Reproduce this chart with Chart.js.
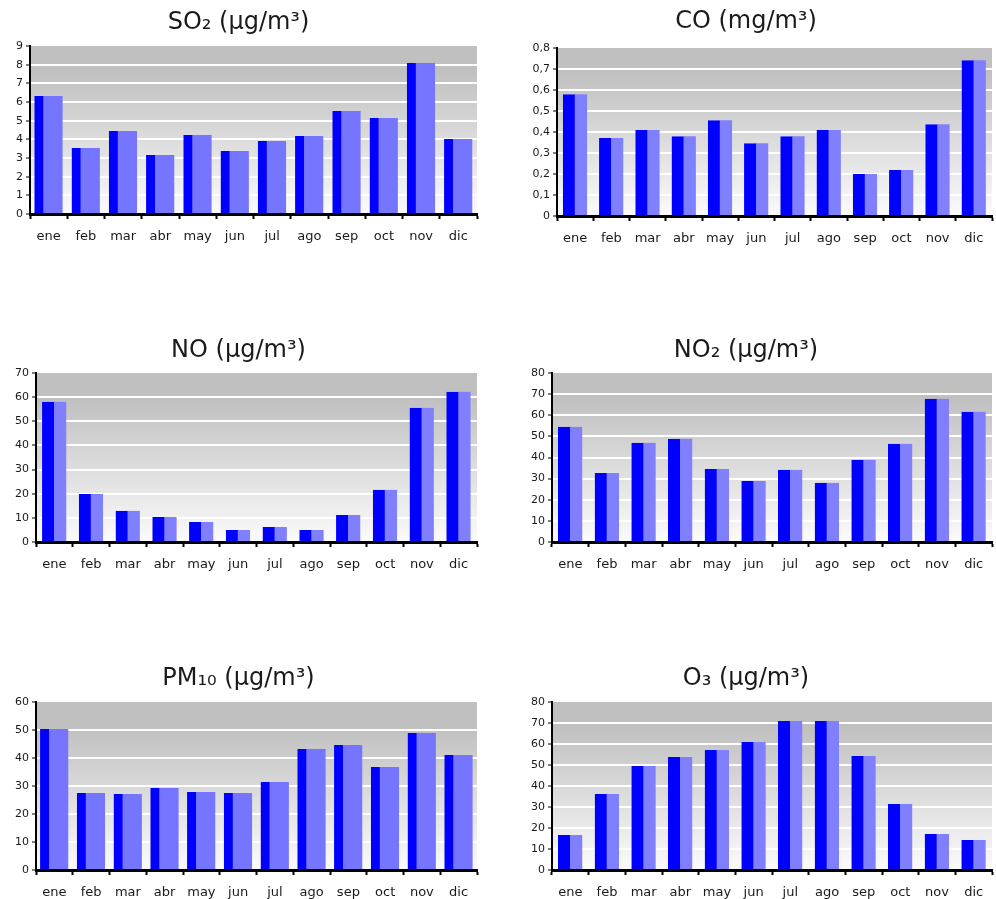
<!DOCTYPE html>
<html>
<head>
<meta charset="utf-8">
<script src="https://cdn.jsdelivr.net/npm/chart.js@4"></script>
<style>
  body { margin: 0; background: #fff; }
  #wrap { position: relative; width: 996px; height: 899px; }
  canvas { position: absolute; }
</style>
</head>
<body>
<div id="wrap">
  <canvas id="so2"></canvas>
  <canvas id="co"></canvas>
  <canvas id="no"></canvas>
  <canvas id="no2"></canvas>
  <canvas id="pm10"></canvas>
  <canvas id="o3"></canvas>
</div>
<script>
'use strict';

// data
let months = ['ene', 'feb', 'mar', 'abr', 'may', 'jun', 'jul', 'ago', 'sep', 'oct', 'nov', 'dic'];
let so2Values = [6.32, 3.54, 4.45, 3.16, 4.23, 3.38, 3.91, 4.18, 5.52, 5.14, 8.09, 4.02];
let coValues = [0.58, 0.371, 0.409, 0.38, 0.456, 0.347, 0.38, 0.409, 0.2, 0.219, 0.437, 0.742];
let noValues = [58.1, 19.9, 12.9, 10.4, 8.3, 5.0, 6.2, 5.0, 11.2, 21.6, 55.6, 62.2];
let no2Values = [54.5, 32.7, 47.0, 48.9, 34.6, 28.9, 34.2, 28.0, 38.9, 46.5, 67.8, 61.7];
let pm10Values = [50.4, 27.5, 27.1, 29.3, 27.9, 27.5, 31.4, 43.2, 44.6, 36.8, 48.9, 41.1];
let o3Values = [16.7, 36.2, 49.5, 53.8, 57.1, 61.0, 71.0, 71.0, 54.3, 31.4, 17.1, 14.3];

// y axis: max and step of the tick labels
let so2Axis = [9, 1];
let coAxis = [0.8, 0.1];
let noAxis = [70, 10];
let no2Axis = [80, 10];
let pm10Axis = [60, 10];
let o3Axis = [80, 10];

// background of the plot area
const plotBackground = {
  id: 'plotBackground',
  beforeDraw(chart) {
    let a = chart.chartArea;
    let c = chart.ctx;
    let g = c.createLinearGradient(0, a.top, 0, a.bottom);
    g.addColorStop(0, '#c0c0c0');
    g.addColorStop(0.15, '#c0c0c0');
    g.addColorStop(1, '#fbfbfb');
    c.save();
    c.fillStyle = g;
    c.fillRect(a.left, a.top, a.right - a.left, a.bottom - a.top);
    c.restore();
  }
};

function makeChart(id, title, values, axis, p) {
  let canvas = document.getElementById(id);
  let h = p.bottom - p.y0 + 32;
  canvas.width = p.w;
  canvas.height = h;
  canvas.style.left = p.x0 + 'px';
  canvas.style.top = p.y0 + 'px';
  let titleSize = 24;
  let padTop = p.titleY - p.y0 - titleSize * 0.6;
  let padBottom = p.top - p.y0 - padTop - titleSize * 1.2;

  return new Chart(canvas.getContext('2d'), {
    type: 'bar',
    data: {
      labels: months,
      datasets: [{
        data: values,
        backgroundColor: p.light,
        borderColor: '#0000ff',
        borderWidth: { left: p.dark, top: 0, right: 0, bottom: 0 },
        borderSkipped: false,
        barThickness: p.bar
      }]
    },
    options: {
      responsive: false,
      animation: false,
      layout: { padding: { left: 0, right: p.x0 + p.w - p.right, top: 0, bottom: 0 } },
      plugins: {
        legend: { display: false },
        tooltip: { enabled: false },
        title: {
          display: true,
          text: title,
          color: '#1a1a1a',
          font: { family: 'DejaVu Sans', size: titleSize, weight: 'normal' },
          padding: { top: padTop, bottom: padBottom }
        }
      },
      scales: {
        x: {
          afterFit(scale) { scale.height = 32; },
          border: { color: '#000', width: 3 },
          grid: { drawOnChartArea: false, tickLength: 5, tickColor: '#000', tickWidth: 2 },
          ticks: { color: '#1a1a1a', padding: 10, font: { family: 'DejaVu Sans', size: 13 } }
        },
        y: {
          min: 0,
          max: axis[0],
          afterFit(scale) { scale.width = p.left - p.x0; },
          border: { color: '#000', width: 2 },
          grid: {
            color: (ctx) => (ctx.tick && ctx.tick.value > 0 && ctx.tick.value < axis[0] - 1e-9) ? '#ffffff' : 'rgba(0,0,0,0)',
            lineWidth: 2,
            tickLength: 4,
            tickColor: '#000',
            tickWidth: 1
          },
          ticks: {
            stepSize: axis[1],
            color: '#1a1a1a',
            padding: 3,
            font: { family: 'DejaVu Sans', size: 11 },
            callback: (v) => String(Math.round(v * 10) / 10).replace('.', ',')
          }
        }
      }
    },
    plugins: [plotBackground]
  });
}

makeChart('so2', 'SO₂ (µg/m³)', so2Values, so2Axis,
  { x0: 0, y0: 0, w: 490, left: 30, top: 46, right: 477, bottom: 214, titleY: 23, bar: 28, dark: 9, light: '#7575ff' });
makeChart('co', 'CO (mg/m³)', coValues, coAxis,
  { x0: 500, y0: 0, w: 496, left: 557, top: 48, right: 992, bottom: 216, titleY: 22, bar: 24, dark: 12, light: '#8080ff' });
makeChart('no', 'NO (µg/m³)', noValues, noAxis,
  { x0: 0, y0: 330, w: 490, left: 36, top: 373, right: 477, bottom: 542, titleY: 351, bar: 24, dark: 12, light: '#8080ff' });
makeChart('no2', 'NO₂ (µg/m³)', no2Values, no2Axis,
  { x0: 500, y0: 330, w: 496, left: 552, top: 373, right: 992, bottom: 542, titleY: 351, bar: 24, dark: 12, light: '#8080ff' });
makeChart('pm10', 'PM₁₀ (µg/m³)', pm10Values, pm10Axis,
  { x0: 0, y0: 660, w: 490, left: 36, top: 702, right: 477, bottom: 870, titleY: 679, bar: 28, dark: 9, light: '#7575ff' });
makeChart('o3', 'O₃ (µg/m³)', o3Values, o3Axis,
  { x0: 500, y0: 660, w: 496, left: 552, top: 702, right: 992, bottom: 870, titleY: 679, bar: 24, dark: 12, light: '#8080ff' });
</script>
</body>
</html>
